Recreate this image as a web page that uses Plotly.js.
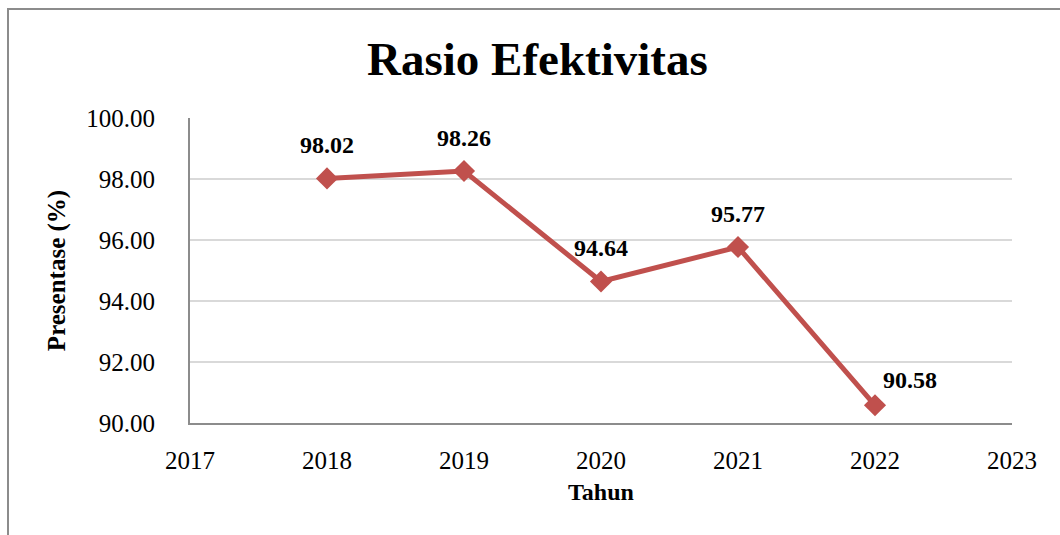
<!DOCTYPE html>
<html>
<head>
<meta charset="utf-8">
<script src="https://cdn.plot.ly/plotly-3.0.1.min.js"></script>
<style>
html,body{margin:0;padding:0;background:#fff;overflow:hidden;width:1060px;height:535px;}
#chart{position:absolute;left:0;top:0;width:1060px;height:535px;}
#frame{position:absolute;left:7px;top:8px;width:1200px;height:700px;border:2px solid #8c8c8c;pointer-events:none;}
</style>
</head>
<body>
<div id="chart"></div>
<div id="frame"></div>
<script>
const years = [2018, 2019, 2020, 2021, 2022];
const values = [98.02, 98.26, 94.64, 95.77, 90.58];
const valueLabels = ["98.02", "98.26", "94.64", "95.77", "90.58"];
const yTicks = [90, 92, 94, 96, 98, 100];
const yTickLabels = ["90.00", "92.00", "94.00", "96.00", "98.00", "100.00"];
const xTicks = [2017, 2018, 2019, 2020, 2021, 2022, 2023];
const xTickLabels = ["2017", "2018", "2019", "2020", "2021", "2022", "2023"];

const serif = "Liberation Serif, Times New Roman, serif";

const trace = {
  x: years,
  y: values,
  type: 'scatter',
  mode: 'lines+markers',
  line: {color: '#C0504D', width: 5},
  marker: {symbol: 'diamond', size: 17, color: '#C0504D'},
  hoverinfo: 'none'
};

const annotations = years.map((yr, i) => {
  const last = i === years.length - 1;
  return {
    x: yr, y: values[i], xref: 'x', yref: 'y',
    text: '<b>' + valueLabels[i] + '</b>',
    showarrow: false,
    xshift: last ? 35 : 0,
    yshift: last ? 25 : 33,
    font: {family: serif, size: 24, color: '#000'}
  };
});

const layout = {
  width: 1060, height: 535,
  margin: {l: 190, r: 48, t: 118, b: 112},
  paper_bgcolor: 'rgba(0,0,0,0)',
  plot_bgcolor: '#fff',
  showlegend: false,
  title: {
    text: '<b>Rasio Efektivitas</b>',
    font: {family: serif, size: 47, color: '#000'},
    x: 0.507, xanchor: 'center', xref: 'container',
    y: 0.89, yanchor: 'middle', yref: 'container'
  },
  xaxis: {
    range: [2017, 2023],
    tickvals: xTicks, ticktext: xTickLabels,
    showgrid: false, zeroline: false,
    showline: true, linecolor: '#8c8c8c', linewidth: 2,
    ticks: '', ticklabelstandoff: 14,
    tickfont: {family: serif, size: 25, color: '#000'},
    title: {text: '<b>Tahun</b>', font: {family: serif, size: 24, color: '#000'}, standoff: 10},
    fixedrange: true
  },
  yaxis: {
    range: [90, 100],
    tickvals: yTicks, ticktext: yTickLabels,
    showgrid: true, gridcolor: '#d9d9d9', gridwidth: 1.5,
    zeroline: false,
    showline: true, linecolor: '#8c8c8c', linewidth: 2,
    ticks: '', ticklabelstandoff: 28,
    tickfont: {family: serif, size: 25, color: '#000'},
    title: {text: '<b>Presentase (%)</b>', font: {family: serif, size: 25, color: '#000'}, standoff: 14},
    fixedrange: true
  },
  annotations: annotations
};

Plotly.newPlot('chart', [trace], layout, {displayModeBar: false, staticPlot: true});
</script>
</body>
</html>
